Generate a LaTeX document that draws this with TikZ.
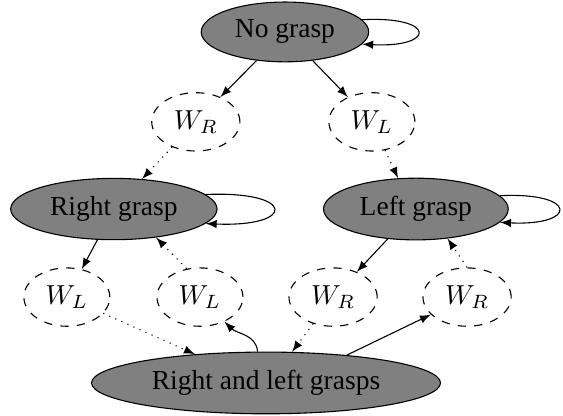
\documentclass[tikz,border=0pt]{standalone}
\usepackage{fontspec}
\setmainfont{Liberation Serif}
\usetikzlibrary{positioning,shapes.geometric}

\begin{document}
\begin{tikzpicture}[>=latex, on grid,
        graspnode/.style={ellipse, draw=black, fill=gray, thin},
        waitnode/.style={ellipse, draw=black, dashed, thin}]

        \useasboundingbox (-3.641,0.408) rectangle (3.553,-4.896);

        \node[graspnode] (nog) {No grasp};
        \node[waitnode] (wr1) [below left=1.149cm and 1.139cm of nog] {$W_R$};
        \node[waitnode] (wl1) [below right=1.149cm and 1.111cm of nog] {$W_L$};
        \node[graspnode] (rg) [below left=1.114cm and 1.047cm of wr1] {Right grasp};
        \node[graspnode] (lg) [below right=1.114cm and 0.562cm of wl1] {Left grasp};
        \node[waitnode] (wl2) [below left=1.125cm and 0.601cm of rg] {$W_L$};
        \node[waitnode] (wl3) [below right=1.125cm and 1.100cm of rg] {$W_L$};
        \node[waitnode] (wr2) [below left=1.125cm and 1.058cm of lg] {$W_R$};
        \node[waitnode] (wr3) [below right=1.125cm and 0.654cm of lg] {$W_R$};
        \node[graspnode] (rl) [below right=1.097cm and 0.844cm of wl3] {Right and left grasps};

        \draw[->] (nog.9) .. controls +(0.95,0.05) and +(0.95,-0.05) .. (nog.-9);
        \draw[->] (rg.9) .. controls +(1.16,0.05) and +(1.16,-0.05) .. (rg.-9);
        \draw[->] (lg.9) .. controls +(1.0,0.05) and +(1.0,-0.05) .. (lg.-9);

        \draw[->] (nog) -- (wr1);
        \draw[->] (nog) -- (wl1);
        \draw[->, dotted] (wr1) -- (rg);
        \draw[->, dotted] (wl1) -- (lg.120);
        \draw[->] (rg) -- (wl2);
        \draw[->, dotted] (wl3.115) -- (rg.-34);
        \draw[->] (lg) -- (wr2);
        \draw[->, dotted] (wr3.north) -- (lg.-43);
        \draw[->, dotted] (wl2) -- (rl.158);
        \draw[->] (rl.105) to[out=95, in=-45] (wl3);
        \draw[->, dotted] (wr2) -- (rl.50);
        \draw[->] (rl.19) -- (wr3);

\end{tikzpicture}
\end{document}
